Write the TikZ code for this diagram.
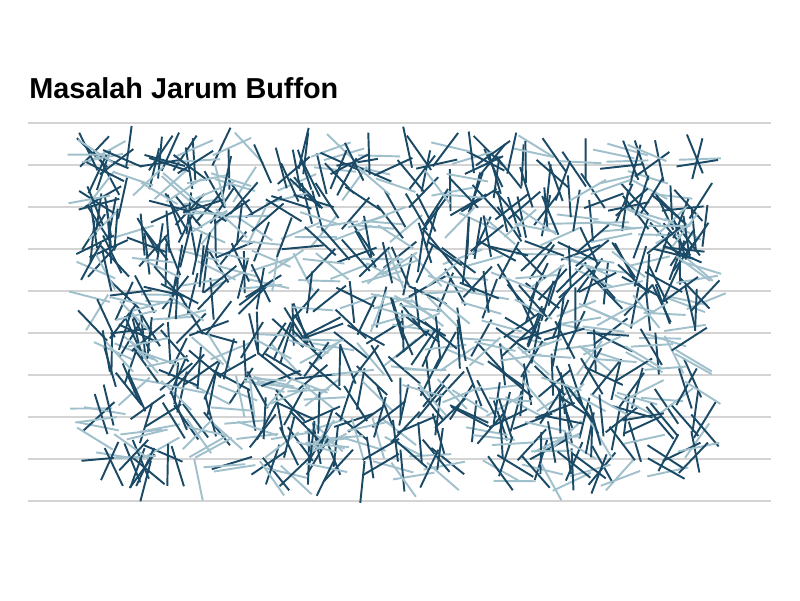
\documentclass[tikz,border=0pt]{standalone}
\usepackage{fontspec}
\setmainfont{Liberation Sans}
\usepackage{xcolor}
\usepackage{tikz}
\definecolor{needleDark}{RGB}{26,74,102}
\definecolor{needleLight}{RGB}{160,192,204}
\definecolor{floorLine}{RGB}{212,212,212}

\begin{document}
\begin{tikzpicture}[x=0.02cm, y=-0.02cm]
\useasboundingbox (0,0) rectangle (800,600);
\node[anchor=base west, inner sep=0pt, font=\fontsize{16.4}{19}\selectfont\bfseries] (title) at (29,98) {Masalah Jarum Buffon};
% lines on the floor
\foreach \k in {0,...,9}
{
\draw[floorLine, line width=0.6pt] (28,123+42*\k) -- (771,123+42*\k);
}
% needles
\pgfmathsetseed{2718}
\foreach \i in {1,...,1000}
{
\pgfmathsetmacro{\cx}{88+620*rnd}
\pgfmathsetmacro{\cy}{146+336*rnd}
\pgfmathsetmacro{\th}{180*rnd}
\pgfmathsetmacro{\dx}{21*cos(\th)}
\pgfmathsetmacro{\dy}{21*sin(\th)}
\pgfmathtruncatemacro{\ka}{floor((\cy-\dy-123)/42)}
\pgfmathtruncatemacro{\kb}{floor((\cy+\dy-123)/42)}
\ifnum\ka=\kb \def\col{needleLight}\else\def\col{needleDark}\fi
\draw[\col, line width=1.1pt] (\cx-\dx,\cy-\dy) -- (\cx+\dx,\cy+\dy);
}
\end{tikzpicture}
\end{document}
